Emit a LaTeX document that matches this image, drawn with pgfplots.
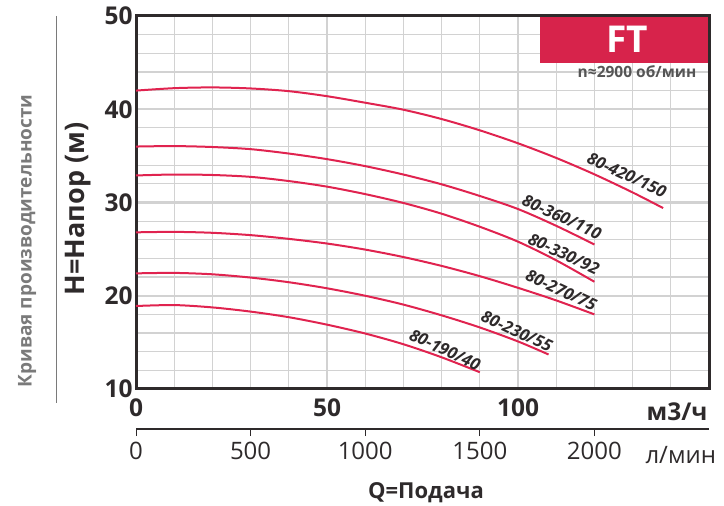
\documentclass[border=0pt]{standalone}
\usepackage{fontspec}
\setmainfont{Open Sans}
\usepackage{pgfplots}
\pgfplotsset{compat=1.18}
\definecolor{curvec}{HTML}{E0234F}
\definecolor{ftred}{HTML}{D7234B}
\definecolor{gridc}{HTML}{D2D2D2}
\definecolor{axc}{HTML}{2E2A2B}
\definecolor{subc}{HTML}{7A7A7A}
\definecolor{ngray}{HTML}{555555}

\begin{document}
\begin{tikzpicture}
\path (0bp,0bp) rectangle (724bp,506bp);

\begin{axis}[
  at={(136bp,117bp)}, scale only axis,
  width=573bp, height=373bp,
  xmin=0, xmax=150, ymin=10, ymax=50,
  xtick={0,50,100}, minor xtick={10,20,...,150},
  ytick={10,20,...,50}, minor ytick={12,14,...,48},
  grid=both, grid style={draw=gridc},
  major grid style={line width=2.4bp},
  minor grid style={line width=1.2bp},
  axis line style={draw=axc, line width=3bp},
  tick style={draw=none},
  /pgf/number format/assume math mode=true,
  ticklabel style={font=\fontsize{24.5bp}{24.5bp}\selectfont\bfseries, text=axc},
  xticklabel style={yshift=-6bp},
  clip=false,
]
  % FT badge
  \fill[ftred] ([yshift=-1.5bp]axis cs:105.8,50) rectangle ([xshift=-1.5bp]axis cs:150,44.93);
  \node[text=white, font=\bfseries\fontsize{37bp}{37bp}\selectfont] at (axis cs:128.5,47.45) {FT};
  \node[anchor=base east, text=ngray, font=\bfseries\fontsize{15.5bp}{15.5bp}\selectfont] at (axis cs:147.6,43.45) {n≈2900 об/мин};

  % 80-420/150
  \addplot[curvec, line width=2bp, smooth] coordinates {
    (0,42.0) (10,42.26) (20,42.34) (30,42.23) (40,41.94) (50,41.4) (60,40.7)
    (70,39.95) (80,38.95) (90,37.74) (100,36.35) (110,34.78) (120,33.02) (130,31.08) (138,29.4)};
  % 80-360/110
  \addplot[curvec, line width=2bp, smooth] coordinates {
    (0,36.0) (10,36.05) (20,35.95) (30,35.72) (40,35.25) (50,34.65) (60,33.9)
    (70,33.0) (80,31.95) (90,30.7) (100,29.3) (110,27.5) (120,25.5)};
  % 80-330/92
  \addplot[curvec, line width=2bp, smooth] coordinates {
    (0,32.9) (10,33.0) (20,32.95) (30,32.75) (40,32.3) (50,31.7) (60,30.9)
    (70,29.95) (80,28.8) (90,27.4) (100,25.8) (110,23.8) (120,21.5)};
  % 80-270/75
  \addplot[curvec, line width=2bp, smooth] coordinates {
    (0,26.8) (10,26.85) (20,26.75) (30,26.5) (40,26.1) (50,25.6) (60,24.95)
    (70,24.15) (80,23.2) (90,22.1) (100,20.85) (110,19.5) (120,18.0)};
  % 80-230/55
  \addplot[curvec, line width=2bp, smooth] coordinates {
    (0,22.4) (10,22.45) (20,22.3) (30,21.95) (40,21.45) (50,20.8) (60,20.0)
    (70,19.05) (80,17.9) (90,16.6) (100,15.1) (108,13.7)};
  % 80-190/40
  \addplot[curvec, line width=2bp, smooth] coordinates {
    (0,18.9) (10,19.0) (20,18.75) (30,18.3) (40,17.7) (50,16.9) (60,15.95)
    (70,14.8) (80,13.4) (90,11.8)};

  \node[rotate=-25, text=axc, font=\bfseries\itshape\fontsize{16.5bp}{16.5bp}\selectfont] at (axis cs:128.5,32.95) {80-420/150};
  \node[rotate=-25, text=axc, font=\bfseries\itshape\fontsize{16.5bp}{16.5bp}\selectfont] at (axis cs:111.5,28.45) {80-360/110};
  \node[rotate=-25, text=axc, font=\bfseries\itshape\fontsize{16.5bp}{16.5bp}\selectfont] at (axis cs:112.0,24.5) {80-330/92};
  \node[rotate=-25, text=axc, font=\bfseries\itshape\fontsize{16.5bp}{16.5bp}\selectfont] at (axis cs:111.3,20.6) {80-270/75};
  \node[rotate=-25, text=axc, font=\bfseries\itshape\fontsize{16.5bp}{16.5bp}\selectfont] at (axis cs:99.7,16.2) {80-230/55};
  \node[rotate=-25, text=axc, font=\bfseries\itshape\fontsize{16.5bp}{16.5bp}\selectfont] at (axis cs:80.9,14.2) {80-190/40};
\end{axis}

% second scale in l/min
\begin{axis}[
  at={(136bp,77bp)}, scale only axis,
  width=573bp, height=10bp,
  xmin=0, xmax=2500, ymin=0, ymax=1,
  axis x line=bottom, axis y line=none,
  axis line style={draw=axc, line width=1.2bp, -},
  xtick={0,500,...,2000},
  tick align=outside, major tick length=7bp,
  tick style={draw=axc, line width=1bp},
  /pgf/number format/assume math mode=true,
  /pgf/number format/1000 sep={},
  xticklabel style={font=\fontsize{24bp}{24bp}\selectfont, text=axc, yshift=-3bp},
]
\end{axis}

\node[rotate=90, text=subc, font=\bfseries\fontsize{19bp}{19bp}\selectfont] at (27bp,265bp) {Кривая производительности};
\draw[subc, line width=1bp] (56bp,490bp) -- (56bp,103bp);
\node[anchor=base east, text=axc, font=\bfseries\fontsize{24.5bp}{24.5bp}\selectfont] at (711bp,85bp) {м3/ч};
\node[anchor=base west, text=axc, font=\fontsize{24bp}{24bp}\selectfont] at (642bp,42bp) {л/мин};
\node[anchor=base, text=axc, font=\bfseries\fontsize{22bp}{22bp}\selectfont] at (426bp,8bp) {Q=Подача};
\node[rotate=90, text=axc, font=\bfseries\fontsize{27bp}{27bp}\selectfont] at (78bp,297bp) {H=Напор (м)};
\end{tikzpicture}
\end{document}
